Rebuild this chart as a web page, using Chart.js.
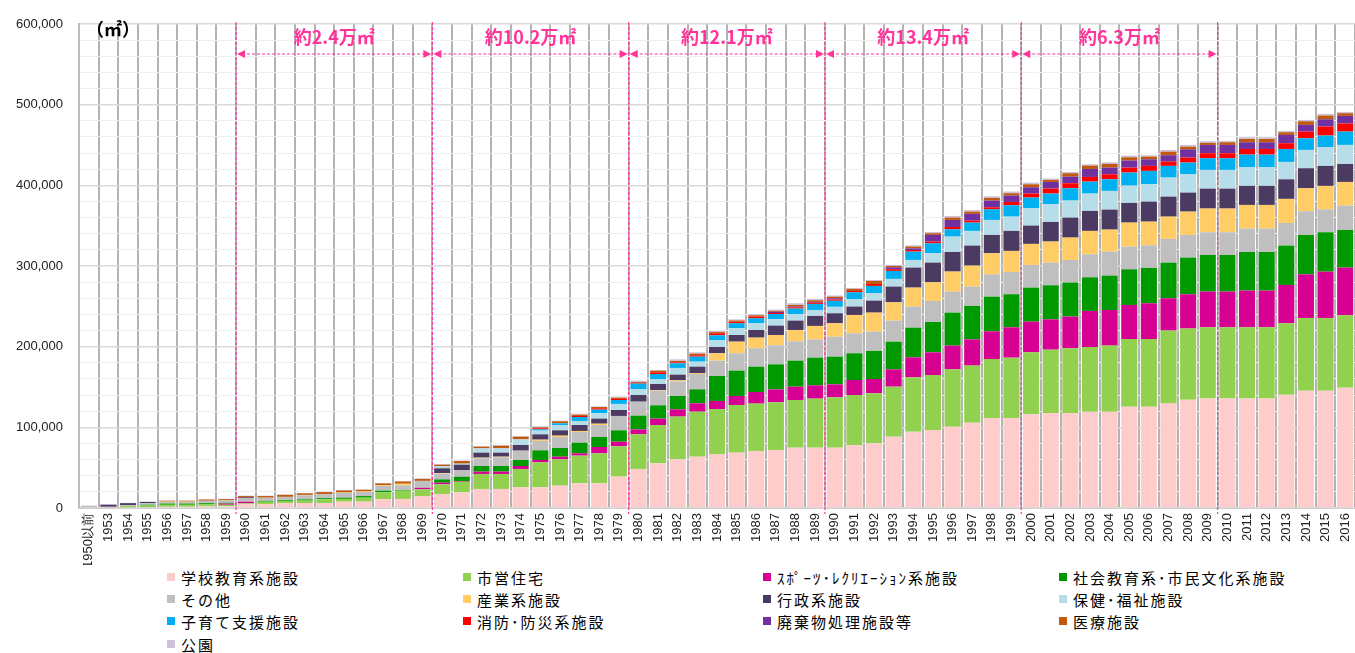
<!DOCTYPE html>
<html lang="ja">
<head>
<meta charset="utf-8">
<script src="https://cdn.jsdelivr.net/npm/chart.js@4.4.1/dist/chart.umd.min.js"></script>
<style>
  html, body { margin: 0; padding: 0; background: #fff; }
  #wrap { position: relative; width: 1355px; height: 653px; overflow: hidden; }
  #chart { position: absolute; left: 0; top: 0; }
  .item {
    position: absolute; height: 22px; display: flex; align-items: center;
    font: 15px "Noto Sans CJK JP", sans-serif; letter-spacing: 2px;
    color: #000; white-space: nowrap;
  }
  .item i { display: inline-block; width: 8px; height: 8px; margin-right: 6px; }
</style>
</head>
<body>
<div id="wrap">
  <canvas id="chart" width="1355" height="565"></canvas>
  <div id="legend"></div>
</div>
<script>
const categories = [
  "1950以前", "1953", "1954", "1955", "1956", "1957", "1958", "1959",
  "1960", "1961", "1962", "1963", "1964", "1965", "1966", "1967", "1968", "1969",
  "1970", "1971", "1972", "1973", "1974", "1975", "1976", "1977", "1978", "1979",
  "1980", "1981", "1982", "1983", "1984", "1985", "1986", "1987", "1988", "1989",
  "1990", "1991", "1992", "1993", "1994", "1995", "1996", "1997", "1998", "1999",
  "2000", "2001", "2002", "2003", "2004", "2005", "2006", "2007", "2008", "2009",
  "2010", "2011", "2012", "2013", "2014", "2015", "2016"
];

// 延床面積（㎡）, stacked bottom to top
const school = [0, 500, 0, 1000, 1500, 1500, 2000, 2000, 4800, 4800, 5800, 6200, 6200, 7800, 7800, 11000, 11200, 14900,
  17400, 19400, 23600, 23600, 25600, 25600, 27700, 30600, 30600, 38900,
  48400, 55400, 60300, 63600, 67000, 68600, 70700, 71900, 74800, 74800,
  74800, 78100, 80200, 88400, 94600, 96700, 100800, 105800, 111200, 111200,
  116100, 117800, 117800, 119400, 119400, 125600, 125600, 129400, 134300, 135600,
  135600, 135600, 135600, 140500, 145500, 145500, 149200];
const housing = [0, 0, 2500, 2000, 2500, 2500, 2500, 2000, 1000, 3000, 3000, 3000, 4500, 3500, 5000, 8500, 10300, 8200,
  11900, 13200, 18600, 18600, 22800, 31000, 32600, 34300, 37200, 37600,
  43000, 47500, 53000, 55800, 55700, 59100, 58700, 59100, 59100, 60800,
  62400, 62000, 62000, 62000, 67400, 68200, 71100, 70700, 73500, 75200,
  76900, 78500, 80200, 80200, 81900, 83900, 83900, 90600, 88200, 88400,
  88400, 88400, 88400, 88500, 90100, 90100, 89700];
const sports = [0, 0, 0, 0, 0, 0, 0, 1500, 2000, 0, 0, 0, 0, 0, 0, 0, 0, 2000,
  2100, 900, 2900, 2900, 3700, 2900, 3300, 2900, 7800, 5700,
  6100, 7900, 9000, 10400, 10000, 11200, 14400, 16100, 16500, 16500,
  16100, 18600, 17700, 21500, 24800, 28100, 29400, 32600, 34400, 37600,
  38000, 37600, 39300, 44700, 44200, 42200, 44300, 40000, 42500, 44300,
  44300, 45500, 45500, 47500, 54100, 57400, 59100];
const social = [0, 0, 0, 1000, 1500, 1500, 1500, 1000, 0, 1000, 1000, 1500, 1500, 1500, 2000, 2000, 800, 0,
  4100, 5300, 7000, 7000, 7400, 12000, 10800, 13200, 12400, 14100,
  17000, 16500, 16600, 17300, 31000, 31400, 31400, 31000, 32300, 34300,
  34300, 33100, 34800, 34300, 36800, 37600, 40900, 41400, 42900, 41000,
  42200, 42200, 42100, 41700, 42600, 44200, 43800, 44200, 45400, 45400,
  45400, 47900, 47900, 48800, 48800, 48800, 46700];
const other = [2500, 1000, 1000, 2000, 2000, 2000, 3000, 3000, 4500, 4000, 4000, 5000, 5000, 6000, 5000, 6000, 5800, 8500,
  7100, 8300, 9500, 10700, 11600, 11600, 13600, 13200, 14900, 17800,
  17300, 18200, 18100, 19000, 19000, 21500, 22800, 23600, 23900, 22700,
  24800, 24800, 23900, 26100, 26100, 26100, 26100, 24000, 27700, 27600,
  28100, 28100, 28100, 28500, 29700, 28200, 28100, 29400, 28100, 28100,
  28100, 29000, 29000, 28100, 29400, 28500, 30200];
const industry = [0, 0, 0, 0, 500, 500, 0, 0, 0, 0, 0, 500, 0, 500, 800, 1000, 2000, 0,
  800, 0, 800, 800, 0, 1600, 1700, 1300, 1600, 0,
  0, 800, 1300, 900, 9100, 14400, 13200, 12800, 14100, 16600,
  16600, 22700, 23600, 22700, 23500, 23100, 24800, 26000, 26100, 26100,
  26100, 26100, 27700, 29000, 27300, 29700, 29300, 27600, 28900, 29400,
  29400, 29300, 29300, 29800, 28500, 29000, 29300];
const admin = [0, 2500, 2500, 1500, 0, 0, 0, 0, 1000, 0, 0, 0, 0, 0, 0, 0, 0, 0,
  5800, 6600, 6200, 5000, 7000, 6600, 6600, 7400, 6300, 7400,
  8300, 7400, 7000, 8200, 7800, 8300, 9500, 11600, 11600, 12400,
  12400, 10400, 14900, 19500, 24800, 24400, 24300, 24800, 22700, 24800,
  22700, 24300, 24800, 24800, 24800, 24400, 24800, 24800, 23600, 24700,
  24700, 23600, 23600, 24300, 24800, 24800, 22300];
const welfare = [0, 0, 0, 0, 0, 0, 0, 0, 0, 0, 0, 0, 0, 0, 0, 0, 0, 0,
  2500, 1300, 5400, 5400, 7000, 4600, 6600, 5000, 6600, 7500,
  7400, 6200, 8300, 6200, 8300, 8300, 8300, 7800, 8200, 7400,
  8000, 9000, 9100, 9500, 9500, 11600, 19000, 18200, 18600, 17700,
  21500, 21900, 21100, 21500, 23200, 21500, 21500, 23600, 22700, 23200,
  23200, 23100, 23100, 21500, 22700, 23100, 23600];
const childcare = [0, 0, 0, 0, 0, 0, 0, 0, 0, 0, 0, 0, 0, 0, 0, 0, 0, 0,
  0, 0, 0, 0, 0, 1600, 2100, 4900, 4500, 4900,
  6700, 6200, 5800, 6200, 6200, 6200, 6200, 6600, 6700, 7500,
  7500, 8700, 9100, 9900, 10300, 12400, 9100, 10300, 13200, 14100,
  13200, 13300, 15300, 14800, 14400, 16100, 16600, 14500, 14500, 14500,
  14500, 15700, 15700, 16100, 14500, 14500, 16500];
const fire = [0, 0, 0, 0, 0, 0, 0, 0, 0, 0, 0, 0, 0, 0, 0, 0, 0, 0,
  0, 0, 0, 0, 0, 1300, 0, 1300, 1700, 1300,
  1000, 2100, 1200, 1700, 2500, 2000, 2000, 1200, 1600, 1500,
  1600, 1700, 2500, 2100, 2100, 2100, 2900, 2500, 2500, 4100,
  5000, 6200, 6200, 5800, 6200, 6200, 6200, 5300, 6200, 6200,
  6200, 7000, 7000, 7100, 8200, 11100, 10000];
const waste = [0, 0, 0, 0, 0, 0, 0, 0, 0, 0, 0, 0, 0, 0, 0, 0, 0, 0,
  0, 0, 0, 0, 0, 0, 0, 0, 0, 0,
  0, 0, 0, 0, 0, 0, 0, 1500, 1000, 1000,
  1500, 0, 0, 2400, 2000, 8200, 8700, 8300, 8300, 7900,
  7800, 8200, 8200, 9900, 8300, 8700, 8200, 7900, 10300, 10300,
  10300, 8300, 8300, 10300, 8300, 9100, 9500];
const medical = [0, 0, 0, 0, 1000, 1000, 1500, 1500, 1500, 2000, 2500, 2000, 2500, 2500, 2000, 2000, 2800, 2500,
  2000, 3300, 2000, 3300, 3300, 1200, 2500, 1600, 1600, 1600,
  1000, 2100, 1700, 2100, 1500, 1500, 1700, 1200, 1900, 2000,
  2000, 2500, 3700, 1700, 2200, 2100, 2900, 2800, 3300, 2900,
  3700, 2500, 4200, 4200, 4500, 4100, 3300, 4500, 3300, 2500,
  3300, 4100, 4100, 3300, 4500, 4600, 3300];
const park = [500, 1000, 500, 500, 500, 500, 500, 500, 500, 500, 500, 500, 500, 500, 500, 500, 500, 500,
  800, 500, 900, 700, 900, 1300, 800, 1300, 800, 1200,
  1700, 800, 2000, 1600, 1400, 1400, 1600, 1600, 2100, 1500,
  1500, 1200, 1200, 1200, 1600, 1600, 2100, 2100, 2000, 2100,
  2100, 1700, 1600, 1600, 2100, 2100, 1700, 2100, 2100, 2100,
  1700, 2100, 2100, 1700, 1700, 2000, 1600];

const seriesNames = [
  "学校教育系施設", "市営住宅", "ｽﾎﾟｰﾂ･ﾚｸﾘｴｰｼｮﾝ系施設", "社会教育系･市民文化系施設",
  "その他", "産業系施設", "行政系施設", "保健･福祉施設",
  "子育て支援施設", "消防･防災系施設", "廃棄物処理施設等", "医療施設", "公園"
];
const seriesData = [school, housing, sports, social, other, industry, admin, welfare, childcare, fire, waste, medical, park];
const seriesColors = [
  "#FFCCCC", "#92D050", "#D60093", "#009900", "#BFBFBF", "#FFCC66", "#4B3A62",
  "#B7DDE8", "#00B0F0", "#FF0000", "#7030A0", "#C0580E", "#CCC0DA"
];

// 期間ごとの増加量
const periodStarts = ["1960", "1970", "1980", "1990", "2000", "2010"];
const periodLabels = ["約2.4万㎡", "約10.2万㎡", "約12.1万㎡", "約13.4万㎡", "約6.3万㎡"];

const pink = "#FF3399";

const periodPlugin = {
  id: "periods",
  afterDraw(chart) {
    const { ctx, chartArea, scales } = chart;
    const x = scales.x;
    const edges = periodStarts.map((c) => {
      const i = categories.indexOf(c);
      return (x.getPixelForValue(i - 1) + x.getPixelForValue(i)) / 2;
    });
    ctx.save();
    ctx.strokeStyle = pink;
    ctx.fillStyle = pink;
    ctx.lineWidth = 1.2;
    ctx.setLineDash([3, 2]);
    edges.forEach((ex) => {
      ctx.beginPath();
      ctx.moveTo(ex, chartArea.top - 2);
      ctx.lineTo(ex, chartArea.bottom + 6);
      ctx.stroke();
    });
    const ay = chartArea.top + 30;
    for (let i = 0; i < periodLabels.length; i++) {
      const x0 = edges[i], x1 = edges[i + 1];
      ctx.setLineDash([3, 2]);
      ctx.beginPath();
      ctx.moveTo(x0 + 6, ay);
      ctx.lineTo(x1 - 6, ay);
      ctx.stroke();
      ctx.setLineDash([]);
      ctx.beginPath();
      ctx.moveTo(x0 + 1, ay);
      ctx.lineTo(x0 + 9, ay - 4);
      ctx.lineTo(x0 + 9, ay + 4);
      ctx.closePath();
      ctx.fill();
      ctx.beginPath();
      ctx.moveTo(x1 - 1, ay);
      ctx.lineTo(x1 - 9, ay - 4);
      ctx.lineTo(x1 - 9, ay + 4);
      ctx.closePath();
      ctx.fill();
      ctx.font = 'bold 18px "Noto Sans CJK JP", sans-serif';
      ctx.textAlign = "center";
      ctx.textBaseline = "middle";
      ctx.fillText(periodLabels[i], (x0 + x1) / 2, chartArea.top + 13);
    }
    ctx.fillStyle = "#000";
    ctx.font = 'bold 18px "Noto Sans CJK JP", sans-serif';
    ctx.textAlign = "left";
    ctx.textBaseline = "middle";
    ctx.fillText("（㎡）", chartArea.left + 7, chartArea.top + 5);
    ctx.restore();
  }
};

const chart = new Chart(document.getElementById("chart"), {
  type: "bar",
  data: {
    labels: categories,
    datasets: seriesNames.map((name, i) => ({
      label: name,
      data: seriesData[i],
      backgroundColor: seriesColors[i],
      barPercentage: 0.82,
      categoryPercentage: 1.0,
    })),
  },
  options: {
    responsive: false,
    animation: false,
    layout: { padding: { top: 24, left: 0, right: 0, bottom: 0 } },
    plugins: {
      legend: { display: false },
      tooltip: { enabled: false },
    },
    scales: {
      x: {
        stacked: true,
        afterFit: (s) => { s.height = 57; s.paddingLeft = 0; s.paddingRight = 0; },
        grid: { color: "#B3B3B3", lineWidth: 2, drawTicks: false, offset: true },
        border: { color: "#D0D0D0" },
        ticks: {
          autoSkip: false, maxRotation: 90, minRotation: 90, padding: 5,
          color: "#222", font: { family: "Liberation Sans", size: 13 },
        },
      },
      y: {
        stacked: true,
        min: 0,
        max: 600000,
        afterFit: (s) => { s.width = 79; },
        grid: {
          drawTicks: false,
          color: (c) => (c.tick && c.tick.value % 100000 === 0 ? "#D9D9D9" : "#F0F0F0"),
          lineWidth: (c) => (c.tick && c.tick.value % 100000 === 0 ? 1.5 : 1),
        },
        border: { color: "#BDBDBD", width: 2 },
        ticks: {
          autoSkip: false,
          stepSize: 20000,
          padding: 16,
          color: "#222",
          font: { family: "Liberation Sans", size: 13 },
          callback: (v) => (v % 100000 === 0 ? v.toLocaleString("en-US") : ""),
        },
      },
    },
  },
  plugins: [periodPlugin],
});

// 凡例（4列）
const legendCols = [167, 463, 763, 1059];
const legendRows = [577, 599, 621, 644];
const legendEl = document.getElementById("legend");
chart.data.datasets.forEach((ds, i) => {
  const d = document.createElement("div");
  d.className = "item";
  d.style.left = legendCols[i % 4] + "px";
  d.style.top = (legendRows[Math.floor(i / 4)] - 11) + "px";
  d.innerHTML = '<i style="background:' + ds.backgroundColor + '"></i>' + ds.label;
  legendEl.appendChild(d);
});
</script>
</body>
</html>
